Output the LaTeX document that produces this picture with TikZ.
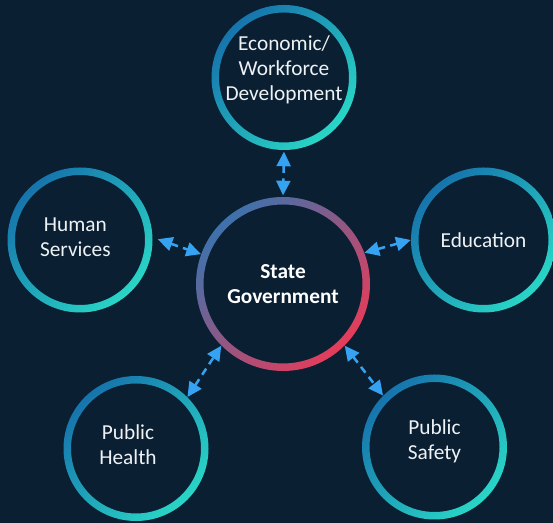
\documentclass[tikz,border=0pt]{standalone}
\usepackage{fontspec}
\setmainfont{Carlito}
\usepackage{xcolor}
\usepackage{tikz}
\usetikzlibrary{arrows.meta}

\definecolor{bgnavy}{HTML}{0B1F33}
\definecolor{ringblue}{HTML}{1674AC}
\definecolor{ringteal}{HTML}{29D6C6}
\definecolor{hubblue}{HTML}{3E72AC}
\definecolor{hubred}{HTML}{E63C5A}
\definecolor{linkblue}{HTML}{36A2F2}
\definecolor{labelwhite}{HTML}{EEF2F5}

\tikzset{
  unit/.style = {circle, inner sep=0pt, minimum size=108.75pt},
  hub/.style = {circle, inner sep=0pt, minimum size=130.5pt},
  unitring/.style = {top color=ringblue, bottom color=ringteal, shading angle=45, even odd rule},
  hubring/.style = {top color=hubblue, bottom color=hubred, shading angle=45, even odd rule},
  unitlabel/.style = {text=labelwhite, align=center, font=\fontsize{16}{18.8}\selectfont},
  hublabel/.style = {text=white, align=center, font=\fontsize{16}{18.8}\selectfont\bfseries},
  link/.style = {draw=linkblue, line width=1.9pt, dash pattern=on 5.5pt off 4pt,
    {Triangle[length=11pt,width=10.5pt]}-{Triangle[length=11pt,width=10.5pt]}},
}

\begin{document}
\begin{tikzpicture}[x=0.75pt, y=0.75pt]
	\def\ro{72.5};
	\def\ri{65};

	\fill[bgnavy] (0,0) rectangle (553,523);
	\useasboundingbox (0,0) rectangle (553,523);

	% the five offices round the hub
	\node[hub] (sg) at (283,239) {};
	\node[unit] (eco) at (284,445.5) {};
	\node[unit] (hs) at (80,283) {};
	\node[unit] (edu) at (483.5,283) {};
	\node[unit] (ph) at (136,74.5) {};
	\node[unit] (ps) at (434.5,76) {};

	\shade[hubring] (sg.center) circle[radius=87] circle[radius=79.5];
	\foreach \u in {eco, hs, edu, ph, ps}
		\shade[unitring] (\u.center) circle[radius=\ro] circle[radius=\ri];

	\node[hublabel] (sg-t) at (sg.center) {State\\Government};
	\node[unitlabel] (eco-t) at ([yshift=5.5pt]eco.center) {Economic/\\Workforce\\Development};
	\node[unitlabel] (hs-t) at ([xshift=-3.5pt, yshift=2pt]hs.center) {Human\\Services};
	\node[unitlabel] (edu-t) at (edu.center) {Education};
	\node[unitlabel] (ph-t) at ([xshift=-6pt, yshift=3pt]ph.center) {Public\\Health};
	\node[unitlabel] (ps-t) at ([yshift=4.5pt]ps.center) {Public\\Safety};

	\draw[link, shorten <=1pt, shorten >=1pt] (eco.270) -- (sg.90);
	\draw[link, shorten <=4pt] (hs.2) -- (sg.160);
	\draw[link] (sg.21) -- (edu.180);
	\draw[link] (ph.45) -- (sg.225);
	\draw[link] (sg.315) -- (ps.135);
\end{tikzpicture}
\end{document}
